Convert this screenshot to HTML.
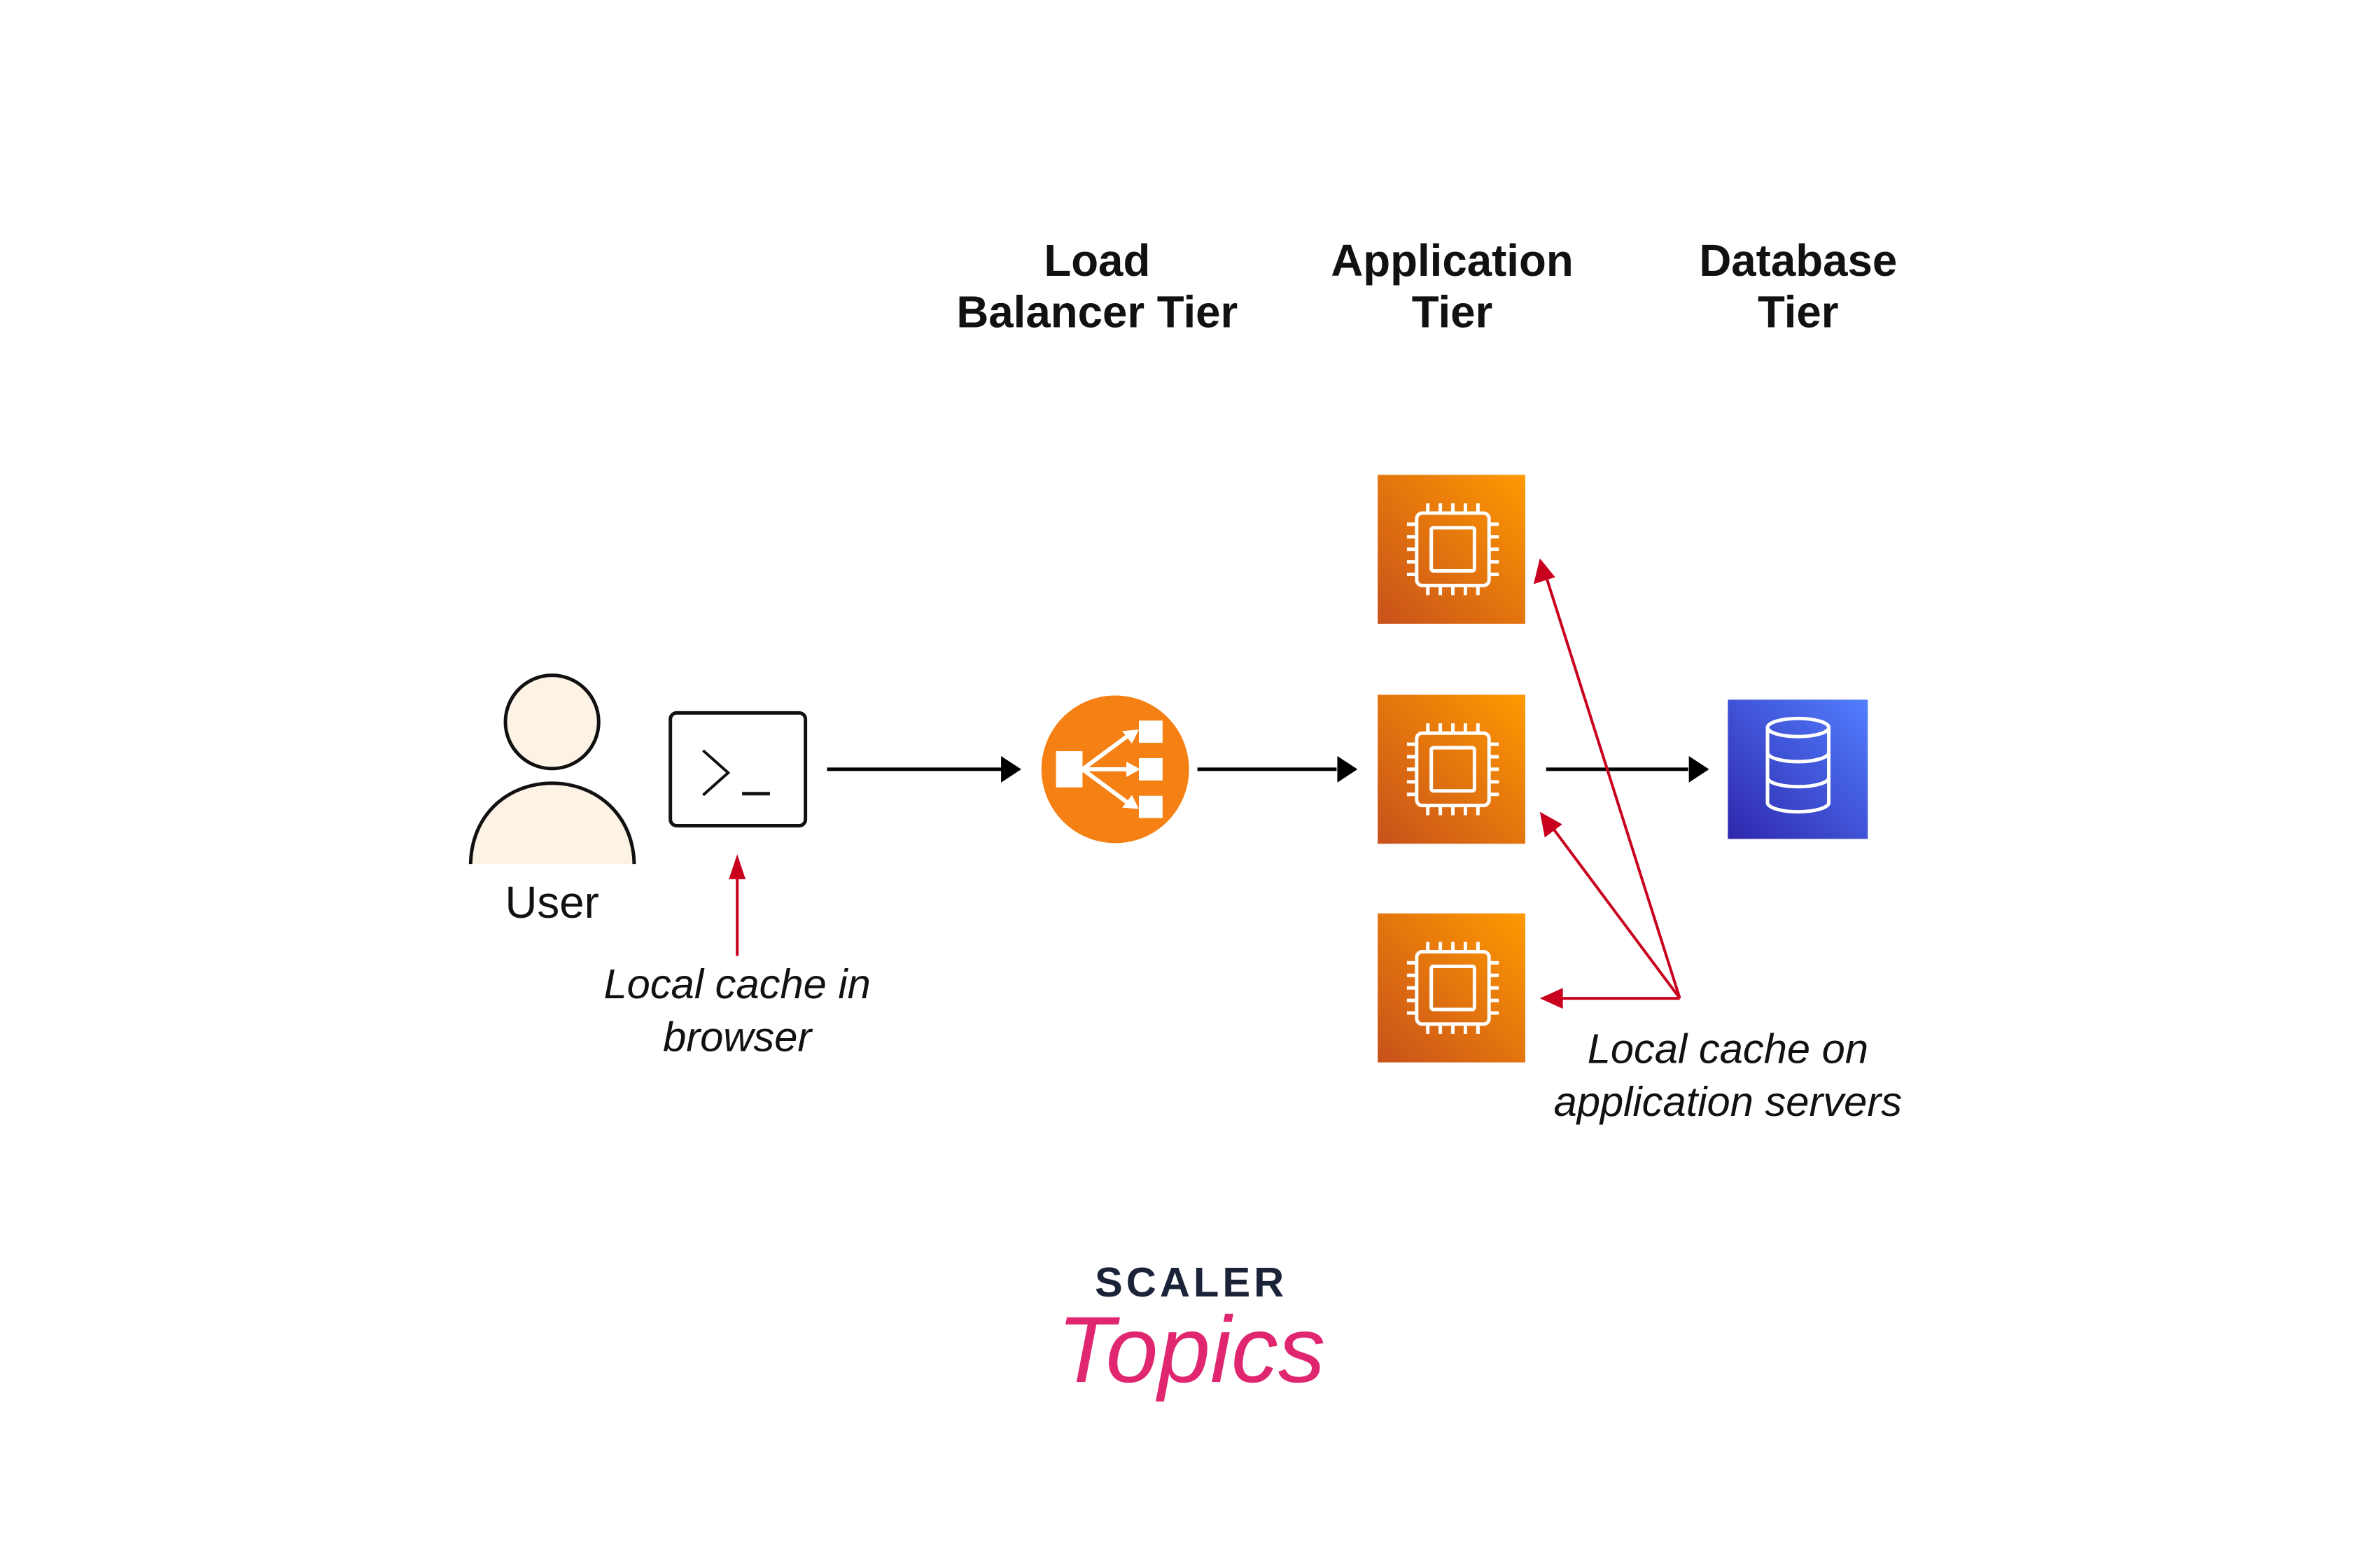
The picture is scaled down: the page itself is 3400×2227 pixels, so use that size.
<!DOCTYPE html>
<html><head><meta charset="utf-8"><style>
html,body{margin:0;padding:0;background:#fff;}
svg{display:block;}
text{font-family:"Liberation Sans",sans-serif;}
</style></head><body>
<svg width="3400" height="2227" viewBox="0 0 3400 2227" xmlns="http://www.w3.org/2000/svg">
<defs>
<linearGradient id="og" x1="0" y1="1" x2="1" y2="0">
<stop offset="0" stop-color="#c8511b"/><stop offset="1" stop-color="#ff9900"/></linearGradient>
<linearGradient id="bg" x1="0" y1="1" x2="1" y2="0">
<stop offset="0" stop-color="#2e27ad"/><stop offset="1" stop-color="#527fff"/></linearGradient>
<g id="chip" fill="none" stroke="#fff" stroke-width="5">
<rect x="-52" y="-52" width="104" height="104" rx="8"/>
<rect x="-31" y="-31" width="62" height="62" rx="3"/>
<path d="M-36-52v-14M-18-52v-14M0-52v-14M18-52v-14M36-52v-14M-36 52v14M-18 52v14M0 52v14M18 52v14M36 52v14M-52-36h-14M-52-18h-14M-52 0h-14M-52 18h-14M-52 36h-14M52-36h14M52-18h14M52 0h14M52 18h14M52 36h14"/>
</g>
</defs>
<g transform="scale(0.9945)">
<!-- headers -->
<g font-size="64" font-weight="bold" text-anchor="middle" fill="#111">
<text x="1576" y="396">Load</text><text x="1576" y="470">Balancer Tier</text>
<text x="2086" y="396">Application</text><text x="2086" y="470">Tier</text>
<text x="2583" y="396">Database</text><text x="2583" y="470">Tier</text>
</g>

<!-- user -->
<path d="M676 1244 C676 1170 730 1125 793 1125 C856 1125 911 1170 911 1244 Z" fill="#fdf3e4" stroke="#111" stroke-width="5"/>
<line x1="670" y1="1244" x2="917" y2="1244" stroke="#fff" stroke-width="6"/>
<circle cx="793" cy="1037" r="67" fill="#fdf3e4" stroke="#111" stroke-width="5"/>
<text x="793" y="1318" font-size="64" text-anchor="middle" fill="#111">User</text>

<!-- terminal -->
<rect x="963" y="1024" width="194" height="162" rx="9" fill="#fff" stroke="#111" stroke-width="5"/>
<path d="M1010 1078 L1046 1110 L1010 1142" fill="none" stroke="#111" stroke-width="4"/>
<line x1="1066" y1="1140" x2="1106" y2="1140" stroke="#111" stroke-width="5"/>

<!-- black arrows -->
<g stroke="#000" stroke-width="5">
<line x1="1188" y1="1105" x2="1440" y2="1105"/>
<line x1="1720" y1="1105" x2="1920" y2="1105"/>
<line x1="2221" y1="1105" x2="2425" y2="1105"/>
</g>
<g fill="#000">
<polygon points="1467,1105 1438,1086 1438,1124"/>
<polygon points="1950,1105 1921,1086 1921,1124"/>
<polygon points="2455,1105 2426,1086 2426,1124"/>
</g>

<!-- load balancer -->
<circle cx="1602" cy="1105" r="106" fill="#f58014"/>
<g fill="#fff">
<rect x="1517" y="1079" width="38" height="52"/>
<rect x="1636" y="1035" width="34" height="32"/>
<rect x="1636" y="1089" width="34" height="32"/>
<rect x="1636" y="1143" width="34" height="32"/>
</g>
<g stroke="#fff" stroke-width="6" fill="none">
<path d="M1555 1105 L1628 1051 M1555 1105 L1628 1105 M1555 1105 L1628 1159"/>
</g>
<g fill="#fff">
<polygon points="1636,1048 1612,1050 1626,1068"/>
<polygon points="1638,1105 1618,1094 1618,1116"/>
<polygon points="1636,1162 1612,1160 1626,1142"/>
</g>

<!-- app servers -->
<rect x="1979" y="682" width="212" height="214" fill="url(#og)"/>
<rect x="1979" y="998" width="212" height="214" fill="url(#og)"/>
<rect x="1979" y="1312" width="212" height="214" fill="url(#og)"/>
<use href="#chip" x="2087" y="789"/>
<use href="#chip" x="2087" y="1105"/>
<use href="#chip" x="2087" y="1419"/>

<!-- database -->
<rect x="2482" y="1005" width="201" height="200" fill="url(#bg)"/>
<g fill="none" stroke="#fff" stroke-width="5">
<ellipse cx="2583" cy="1045" rx="44" ry="13"/>
<path d="M2539 1045 V1153 A44 13 0 0 0 2627 1153 V1045"/>
<path d="M2539 1081 A44 13 0 0 0 2627 1081 M2539 1117 A44 13 0 0 0 2627 1117"/>
</g>

<!-- red arrows -->
<g stroke="#c8001e" stroke-width="4" fill="none">
<line x1="1059" y1="1373" x2="1059" y2="1255"/>
<line x1="2413" y1="1434" x2="2220" y2="825"/>
<line x1="2413" y1="1434" x2="2228" y2="1186"/>
<line x1="2413" y1="1434" x2="2240" y2="1434"/>
</g>
<g fill="#c8001e">
<polygon points="1059,1227 1047,1263 1071,1263"/>
<polygon points="2212,802 2203,839 2234,829"/>
<polygon points="2212,1166 2219,1203 2244,1184"/>
<polygon points="2212,1434 2245,1419 2245,1449"/>
</g>

<!-- labels -->
<g font-size="60" font-style="italic" text-anchor="middle" fill="#111">
<text x="1059" y="1434">Local cache in</text>
<text x="1059" y="1510">browser</text>
<text x="2482" y="1527">Local cache on</text>
<text x="2482" y="1603">application servers</text>
</g>

<!-- logo -->
<text x="1711" y="1862" font-size="60" font-weight="bold" letter-spacing="5" text-anchor="middle" fill="#1b2338">SCALER</text>
<text x="1711" y="1985" font-size="135" font-style="italic" font-family="Liberation Serif,serif" text-anchor="middle" fill="#e0266f">Topics</text>
</g>
</svg>
</body></html>
